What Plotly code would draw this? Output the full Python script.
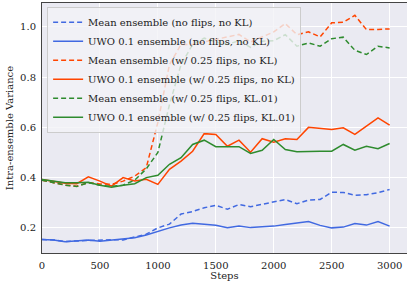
import plotly.graph_objects as go

steps = list(range(0, 3001, 100))

mean_noflip = [0.154, 0.152, 0.146, 0.148, 0.150, 0.152, 0.153, 0.152, 0.165, 0.175,
               0.200, 0.215, 0.255, 0.265, 0.280, 0.290, 0.274, 0.293, 0.284, 0.293,
               0.302, 0.313, 0.296, 0.311, 0.313, 0.342, 0.341, 0.330, 0.332, 0.340, 0.353]
uwo_noflip = [0.154, 0.152, 0.145, 0.148, 0.152, 0.147, 0.152, 0.155, 0.161, 0.172,
              0.187, 0.200, 0.211, 0.218, 0.214, 0.210, 0.201, 0.207, 0.201, 0.204,
              0.207, 0.213, 0.219, 0.225, 0.210, 0.200, 0.203, 0.217, 0.211, 0.225, 0.207]
mean_flip_nokl = [0.390, 0.380, 0.370, 0.366, 0.380, 0.375, 0.373, 0.386, 0.406, 0.440,
                  0.620, 0.850, 0.930, 0.930, 0.940, 0.950, 0.960, 0.970, 0.940, 0.960,
                  0.980, 1.013, 0.969, 0.980, 0.960, 1.016, 1.018, 1.046, 0.989, 0.990, 0.992]
uwo_flip_nokl = [0.393, 0.385, 0.378, 0.376, 0.403, 0.386, 0.366, 0.400, 0.387, 0.393,
                 0.373, 0.433, 0.466, 0.505, 0.575, 0.572, 0.525, 0.549, 0.501, 0.555,
                 0.541, 0.555, 0.552, 0.600, 0.595, 0.592, 0.598, 0.572, 0.605, 0.638, 0.609]
mean_flip_kl = [0.390, 0.380, 0.370, 0.365, 0.380, 0.370, 0.365, 0.370, 0.390, 0.435,
                0.500, 0.690, 0.850, 0.930, 0.955, 0.940, 0.930, 0.945, 0.918, 0.943,
                0.945, 0.969, 0.923, 0.936, 0.923, 0.953, 0.959, 0.907, 0.890, 0.923, 0.916]
uwo_flip_kl = [0.393, 0.387, 0.380, 0.380, 0.382, 0.370, 0.362, 0.370, 0.376, 0.400,
               0.409, 0.453, 0.479, 0.532, 0.549, 0.523, 0.523, 0.523, 0.496, 0.509,
               0.552, 0.512, 0.503, 0.505, 0.505, 0.505, 0.532, 0.509, 0.525, 0.515, 0.536]

names = ["Mean ensemble (no flips, no KL)",
         "UWO 0.1 ensemble (no flips, no KL)",
         "Mean ensemble (w/ 0.25 flips, no KL)",
         "UWO 0.1 ensemble (w/ 0.25 flips, no KL)",
         "Mean ensemble (w/ 0.25 flips, KL.01)",
         "UWO 0.1 ensemble (w/ 0.25 flips, KL.01)"]
series = [mean_noflip, uwo_noflip, mean_flip_nokl, uwo_flip_nokl, mean_flip_kl, uwo_flip_kl]
colors = ["#4169E1", "#4169E1", "#FF4500", "#FF4500", "#2E8B2E", "#2E8B2E"]
dashes = ["5px,3px", "solid", "5px,3px", "solid", "5px,3px", "solid"]

fig = go.Figure()
for n, s, c, d in zip(names, series, colors, dashes):
    fig.add_trace(go.Scatter(x=steps, y=s, mode="lines", name=n,
                             line=dict(color=c, width=1.5, dash=d)))

font = "DejaVu Serif"
fig.update_layout(
    width=407, height=281,
    margin=dict(l=42, r=0, t=3, b=28, autoexpand=False),
    plot_bgcolor="#EAEAF2", paper_bgcolor="white",
    font=dict(family=font, size=10, color="#222"),
    legend=dict(x=0.014, y=0.985, xanchor="left", yanchor="top",
                bgcolor="rgba(242,242,246,0.8)", bordercolor="#CCCCCC", borderwidth=1,
                font=dict(family=font, size=10, color="#222"),
                tracegroupgap=0, itemwidth=30),
    xaxis=dict(range=[0, 3150], tickvals=list(range(0, 3001, 500)), automargin=False,
               showgrid=True, gridcolor="white", gridwidth=1, zeroline=False,
               showline=True, linecolor="#444", linewidth=1, mirror=True,
               ticks="outside", ticklen=3, tickcolor="rgba(0,0,0,0)",
               title=dict(text="Steps", standoff=2, font=dict(size=10))),
    yaxis=dict(range=[0.1, 1.095], tickvals=[0.2, 0.4, 0.6, 0.8, 1.0], tickformat=".1f",
               automargin=False,
               showgrid=True, gridcolor="white", gridwidth=1, zeroline=False,
               showline=True, linecolor="#444", linewidth=1, mirror=True,
               ticks="outside", ticklen=3, tickcolor="rgba(0,0,0,0)",
               title=dict(text="Intra-ensemble Variance", standoff=4, font=dict(size=10))),
)
fig.write_html("out.html", config={"displayModeBar": False},
               post_script="document.body.style.margin='0';")
